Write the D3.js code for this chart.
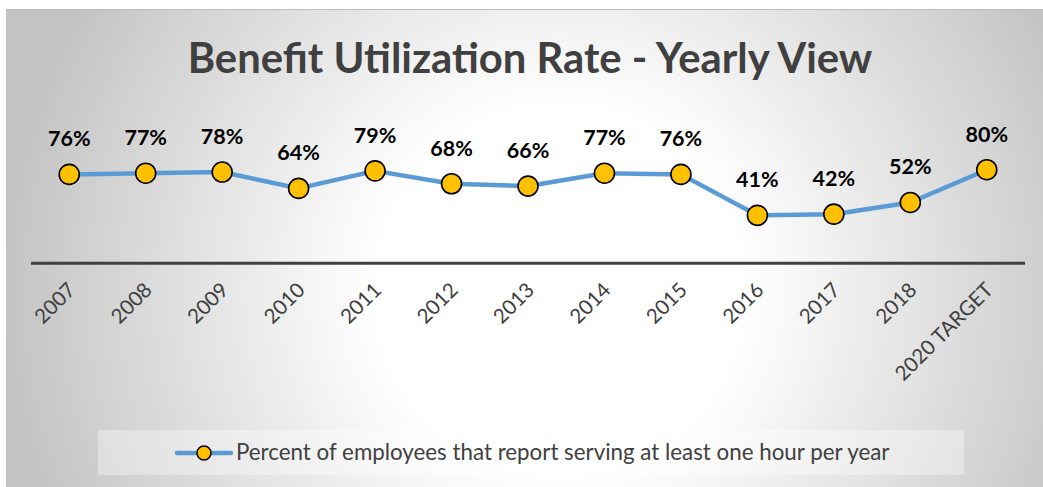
<!DOCTYPE html>
<html>
<head>
<meta charset="utf-8">
<script src="https://cdn.jsdelivr.net/npm/d3@7"></script>
<style>
html,body{margin:0;padding:0;background:#fff;}
svg{display:block;}
</style>
</head>
<body>
<svg id="chart" width="1043" height="487"></svg>
<script>
const categories = ["2007","2008","2009","2010","2011","2012","2013","2014","2015","2016","2017","2018","2020 TARGET"];
const values = [76,77,78,64,79,68,66,77,76,41,42,52,80];
const seriesName = "Percent of employees that report serving at least one hour per year";
const titleText = "Benefit Utilization Rate - Yearly View";

const svg = d3.select("#chart");
const W = 1043, H = 487;
const FONT = "Lato, 'Open Sans', sans-serif";

// background gradient
const defs = svg.append("defs");
const grad = defs.append("radialGradient").attr("id","bg")
  .attr("gradientUnits","userSpaceOnUse")
  .attr("cx",560).attr("cy",290).attr("r",560);
grad.append("stop").attr("offset","0").attr("stop-color","#ffffff");
grad.append("stop").attr("offset","0.33").attr("stop-color","#ffffff");
grad.append("stop").attr("offset","1").attr("stop-color","#c3c3c3");

svg.append("rect").attr("x",6).attr("y",9).attr("width",W-6).attr("height",H-9)
  .attr("fill","url(#bg)");
svg.append("line").attr("x1",6).attr("x2",W).attr("y1",9.5).attr("y2",9.5)
  .attr("stroke","#bdbdbd").attr("stroke-width",1);

const x = d3.scalePoint().domain(categories).range([31,1025]).padding(0.5);
const y = d3.scaleLinear().domain([0,100]).range([263.3,146.3]);

function fitText(sel, target){
  let fs = parseFloat(sel.attr("font-size"));
  const w = sel.node().getComputedTextLength();
  sel.attr("font-size", fs*target/w);
}

// title
const t = svg.append("text").attr("x",530).attr("y",73).attr("text-anchor","middle")
  .attr("font-family",FONT).attr("font-weight","bold").attr("font-size",40)
  .attr("fill","#404040").text(titleText);
fitText(t, 685);

// axis
const xAxis = d3.axisBottom(x).tickSize(0).tickPadding(0);
const gx = svg.append("g").attr("transform","translate(0,263.3)").call(xAxis);
gx.select(".domain").remove();
svg.append("line").attr("x1",31).attr("x2",1025).attr("y1",y(0)).attr("y2",y(0))
  .attr("stroke","#404040").attr("stroke-width",3);
gx.selectAll(".tick text")
  .attr("font-family",FONT).attr("font-size",20.5).attr("fill","#404040")
  .attr("text-anchor","end").attr("dy",0).attr("y",0)
  .attr("transform","translate(7,28) rotate(-45)");

// line
const line = d3.line().x((d,i)=>x(categories[i])).y(d=>y(d));
svg.append("path").datum(values).attr("d",line).attr("fill","none")
  .attr("stroke","#5B9BD5").attr("stroke-width",4.5).attr("stroke-linejoin","round");

svg.selectAll("circle.pt").data(values).join("circle").attr("class","pt")
  .attr("cx",(d,i)=>x(categories[i])).attr("cy",d=>y(d)).attr("r",10)
  .attr("fill","#FFC000").attr("stroke","#000").attr("stroke-width",1.6);

svg.selectAll("text.lbl").data(values).join("text").attr("class","lbl")
  .attr("x",(d,i)=>x(categories[i])).attr("y",d=>y(d)-28)
  .attr("text-anchor","middle").attr("font-family",FONT).attr("font-weight","bold")
  .attr("font-size",21.5).attr("fill","#000").text(d=>d+"%");

// legend
const lg = svg.append("g");
lg.append("rect").attr("x",98).attr("y",430).attr("width",866).attr("height",45)
  .attr("fill","#ffffff").attr("fill-opacity",0.35);
lg.append("line").attr("x1",177).attr("x2",231).attr("y1",453).attr("y2",453)
  .attr("stroke","#5B9BD5").attr("stroke-width",4.5).attr("stroke-linecap","round");
lg.append("circle").attr("cx",204).attr("cy",453).attr("r",7)
  .attr("fill","#FFC000").attr("stroke","#000").attr("stroke-width",1.5);
const lt = lg.append("text").attr("x",236).attr("y",460).attr("font-family",FONT)
  .attr("font-size",20).attr("fill","#404040").text(seriesName);
fitText(lt, 654);
</script>
</body>
</html>
